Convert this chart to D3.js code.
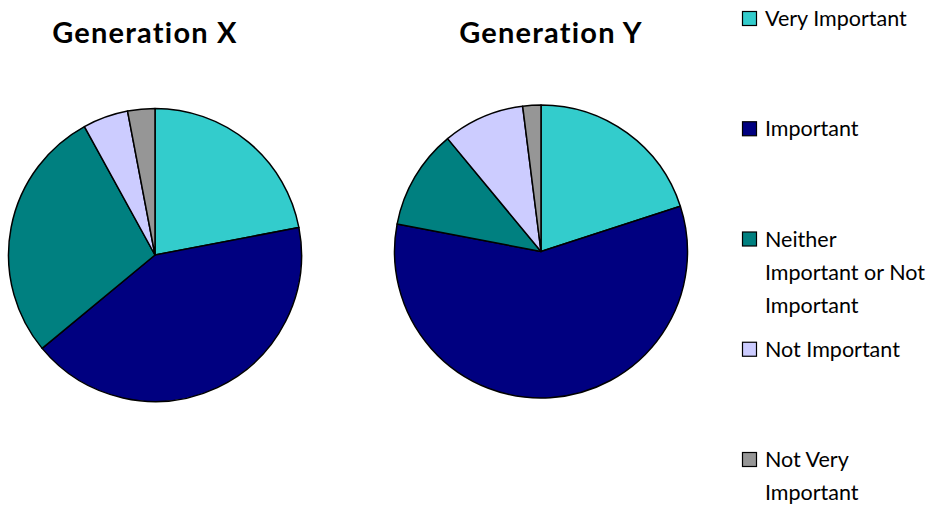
<!DOCTYPE html>
<html lang="en">
<head>
  <meta charset="UTF-8">
  <title>Generation X vs Generation Y</title>
  <script src="https://d3js.org/d3.v7.min.js"></script>
  <style>
      body {
          margin: 0;
          padding: 0;
          background: #fff;
          font-family: 'Lato', 'Open Sans', sans-serif;
          font-variant-ligatures: none;
          overflow: hidden;
      }
      svg { display: block; }
  </style>
</head>
<body>
  <svg width="939" height="506"></svg>
  <script>
      // Data
      const categories = ["Very Important", "Important", "Neither Important or Not Important", "Not Important", "Not Very Important"];
      const legendLines = [["Very Important"], ["Important"], ["Neither", "Important or Not", "Important"], ["Not Important"], ["Not Very", "Important"]];
      const genX = [22, 42, 28, 5, 3];
      const genY = [20, 58, 11, 9, 2];
      const titles = ["Generation X", "Generation Y"];

      const colors = ["#33cccc", "#000080", "#008080", "#ccccff", "#969696"];

      const svg = d3.select("svg");
      const color = d3.scaleOrdinal().domain(categories).range(colors);

      const pie = d3.pie().sort(null).value(d => d.value);
      const radius = 146.5;
      const arc = d3.arc().innerRadius(0).outerRadius(radius);

      const charts = [
          { title: titles[0], values: genX, cx: 155, cy: 255, tx: 145 },
          { title: titles[1], values: genY, cx: 541, cy: 251.5, tx: 551 }
      ];

      charts.forEach(c => {
          const data = categories.map((k, i) => ({ key: k, value: c.values[i] }));

          svg.append("text")
              .attr("x", c.tx)
              .attr("y", 43)
              .attr("text-anchor", "middle")
              .attr("font-size", "29px")
              .attr("font-weight", "bold")
              .attr("letter-spacing", "1.2px")
              .attr("fill", "#000")
              .text(c.title);

          const g = svg.append("g")
              .attr("transform", `translate(${c.cx},${c.cy})`);

          g.selectAll("path")
              .data(pie(data))
              .enter().append("path")
              .attr("d", arc)
              .attr("fill", d => color(d.data.key))
              .attr("stroke", "#000")
              .attr("stroke-width", 1.5)
              .attr("stroke-linejoin", "round");
      });

      // Legend
      const legend = svg.append("g").attr("transform", "translate(742, 0)");
      const rowY = d3.scalePoint().domain(categories).range([18.5, 459.5]);
      const lineHeight = 33;

      categories.forEach((k, i) => {
          const y = rowY(k);
          legend.append("rect")
              .attr("x", 0.5)
              .attr("y", y - 7)
              .attr("width", 14)
              .attr("height", 14)
              .attr("fill", color(k))
              .attr("stroke", "#000")
              .attr("stroke-width", 1.2);

          const t = legend.append("text")
              .attr("font-size", "21.5px")
              .attr("fill", "#000");
          legendLines[i].forEach((line, j) => {
              t.append("tspan")
                  .attr("x", 23)
                  .attr("y", y + j * lineHeight)
                  .attr("dy", "0.35em")
                  .text(line);
          });
      });
  </script>
</body>
</html>
